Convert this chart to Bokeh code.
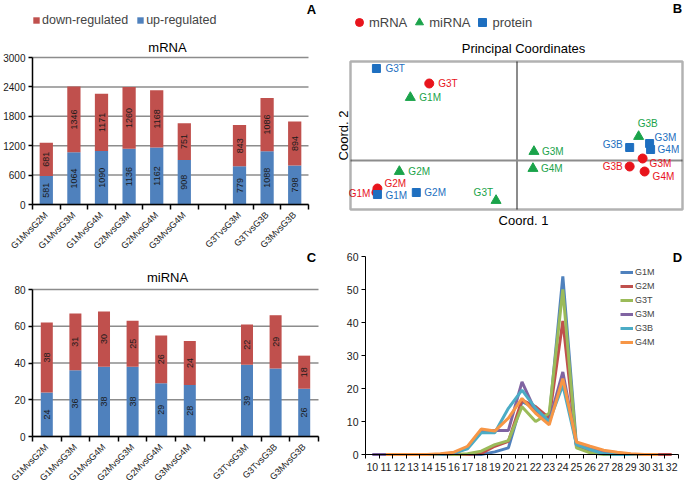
import math
from bokeh.plotting import figure
from bokeh.models import (ColumnDataSource, FixedTicker, Label, Legend, LegendItem,
                          Range1d, BoxAnnotation)
from bokeh.layouts import column, row
from bokeh.embed import file_html
from bokeh.resources import INLINE
from bokeh.core.properties import value

FONT = "Liberation Sans"
BAR_RED = "#C0504D"
BAR_BLUE = "#4F81BD"

# ---------------- data ----------------
comparisons_block1 = ["G1MvsG2M", "G1MvsG3M", "G1MvsG4M", "G2MvsG3M", "G2MvsG4M", "G3MvsG4M"]
comparisons_block2 = ["G3TvsG3M", "G3TvsG3B", "G3MvsG3B"]

mrna_up = [581, 1064, 1090, 1136, 1162, 908, 779, 1088, 798]
mrna_down = [681, 1346, 1171, 1260, 1168, 751, 843, 1086, 894]
mrna_ticks = [0, 600, 1200, 1800, 2400, 3000]

mirna_up = [24, 36, 38, 38, 29, 28, 39, 37, 26]
mirna_down = [38, 31, 30, 25, 26, 24, 22, 29, 18]
mirna_up_labelled = [True, True, True, True, True, True, True, False, True]
mirna_ticks = [0, 20, 40, 60, 80]

pcoa_samples = ["G1M", "G2M", "G3T", "G3M", "G3B", "G4M"]
mrna_c1 = [-0.705, -0.70, -0.44, 0.63, 0.565, 0.64]
mrna_c2 = [-0.16, -0.14, 0.385, 0.01, -0.03, -0.055]
mirna_c1 = [-0.535, -0.59, -0.105, 0.085, 0.61, 0.08]
mirna_c2 = [0.315, -0.055, -0.20, 0.045, 0.12, -0.04]
protein_c1 = [-0.70, -0.505, -0.705, 0.665, 0.565, 0.67]
protein_c2 = [-0.17, -0.16, 0.46, 0.085, 0.065, 0.055]
pcoa_c1_extent = (-0.835, 0.83)
pcoa_c2_extent = (-0.245, 0.495)

NA = float("nan")
length_nt = list(range(10, 33))
len_ticks = [0, 10, 20, 30, 40, 50, 60]
len_G1M = [NA, 0, 0, 0, 0, 0, 0, 0, 0, 0.8, 2, 16, 14, 11, 54, 3, 1.2, 0.3, 0, 0, 0, 0, NA]
len_G2M = [NA, 0, 0, 0, 0, 0, 0, 0, 0.3, 2.5, 4, 16.5, 14.5, 11, 40.5, 2.5, 1, 0.5, 0.2, 0, 0, 0, 0]
len_G3T = [NA, 0, 0, 0, 0, 0, 0, 0.2, 1, 3, 4.2, 14.5, 10, 12.5, 50, 2, 0.5, 0, 0, 0, 0, 0, NA]
len_G3M = [0, 0, 0, 0, 0, 0, 0.3, 2, 7, 7.3, 7.3, 22, 13, 10, 25, 3, 2, 1, 0.5, 0, 0, 0, NA]
len_G3B = [NA, 0, 0, 0, 0, 0, 0.5, 1.7, 6.6, 6.6, 14, 19.5, 14, 10, 21, 3, 1.5, 0.2, 0, 0, 0, 0, NA]
len_G4M = [NA, 0, 0, 0, 0, 0.2, 0.7, 2.5, 7.7, 7.1, 11, 17, 12.5, 9, 23, 3.8, 2.5, 1.3, 0.7, 0.2, 0, 0, NA]

# ---------------- helpers ----------------
comparisons = comparisons_block1 + comparisons_block2
xpos = list(range(1, len(comparisons_block1) + 1)) + \
    list(range(len(comparisons_block1) + 2, len(comparisons_block1) + 2 + len(comparisons_block2)))
n_slots = xpos[-1]


def x_range_for(d_lo, d_hi, px_lo, px_hi, size):
    scale = (px_hi - px_lo) / (d_hi - d_lo)
    start = d_lo - px_lo / scale
    return Range1d(start, start + size / scale)


def y_range_for(d_lo, d_hi, py_lo, py_hi, size):
    # py_* are pixel rows measured from the top of the figure
    b_lo, b_hi = size - py_lo, size - py_hi
    scale = (b_hi - b_lo) / (d_hi - d_lo)
    start = d_lo - b_lo / scale
    return Range1d(start, start + size / scale)


def make_fig(w, h, xr, yr):
    p = figure(width=w, height=h, x_range=xr, y_range=yr, output_backend="svg",
               toolbar_location=None, min_border_left=0, min_border_right=0,
               min_border_top=0, min_border_bottom=0, frame_align=False)
    p.background_fill_color = "white"
    p.border_fill_color = "white"
    p.outline_line_color = None
    p.xgrid.grid_line_color = None
    p.ygrid.grid_line_color = None
    return p


def add_label(p, fx, fy, text, size, bold=False, angle=0.0, align="center", color="#000000"):
    p.add_layout(Label(x=fx, y=p.height - fy, x_units="screen", y_units="screen", text=text,
                       text_font=FONT, text_font_size=size, text_align=align,
                       text_baseline="middle", angle=angle, text_color=color,
                       text_font_style="bold" if bold else "normal"))


def style_axis(ax, size, width=1.5):
    ax.axis_line_color = "black"
    ax.axis_line_width = width
    ax.major_label_text_font = FONT
    ax.major_label_text_font_size = size
    ax.major_label_text_color = "#1a1a1a"
    ax.minor_tick_line_color = None
    ax.major_tick_line_color = "black"
    ax.major_tick_line_width = width


def bar_panel(w, h, box, up, down, ticks, bar_w, up_show, title, title_pos,
              letter, letter_pos, legend_loc=None):
    left, right, top, bottom = box
    p = make_fig(w, h, x_range_for(0.5, n_slots + 0.5, left, right, w),
                 y_range_for(0, ticks[-1], bottom, top, h))
    src = ColumnDataSource(dict(
        x=xpos, up=up, top=[u + d for u, d in zip(up, down)],
        up_mid=[u / 2 for u in up], down_mid=[u + d / 2 for u, d in zip(up, down)],
        up_txt=[str(u) if s else "" for u, s in zip(up, up_show)],
        down_txt=[str(d) for d in down]))
    # horizontal gridlines limited to the plotting box
    p.segment(x0=[0.5] * len(ticks), x1=[n_slots + 0.5] * len(ticks), y0=ticks, y1=ticks,
              line_color="#8C8C8C", line_width=1.5)
    r_up = p.vbar(x="x", bottom=0, top="up", width=bar_w, fill_color=BAR_BLUE,
                  line_color=None, source=src)
    r_down = p.vbar(x="x", bottom="up", top="top", width=bar_w, fill_color=BAR_RED,
                    line_color=None, source=src)
    for ycol, tcol in (("up_mid", "up_txt"), ("down_mid", "down_txt")):
        p.text(x="x", y=ycol, text=tcol, angle=math.pi / 2, text_align="center",
               text_baseline="middle", text_font=value(FONT), text_font_size="9px",
               text_color="#1a1a1a", source=src)
    ya = p.yaxis[0]
    style_axis(ya, "10px")
    ya.fixed_location = 0.5
    ya.bounds = (0, ticks[-1])
    ya.ticker = FixedTicker(ticks=ticks)
    ya.major_tick_out = 4
    ya.major_tick_in = 0
    ya.major_label_standoff = 3
    xa = p.xaxis[0]
    style_axis(xa, "9px")
    xa.fixed_location = 0
    xa.bounds = (0.5, n_slots + 0.5)
    xa.ticker = FixedTicker(ticks=xpos, minor_ticks=[0.5 + i for i in range(n_slots + 1)])
    xa.major_label_overrides = {x: c for x, c in zip(xpos, comparisons)}
    xa.major_tick_line_color = None
    xa.major_tick_out = 0
    xa.major_tick_in = 0
    xa.minor_tick_line_color = "black"
    xa.minor_tick_line_width = 1.5
    xa.minor_tick_out = 5
    xa.minor_tick_in = 0
    xa.major_label_standoff = 4
    xa.major_label_orientation = math.pi / 4
    add_label(p, title_pos[0], title_pos[1], title, "13px")
    add_label(p, letter_pos[0], letter_pos[1], letter, "13px", bold=True)
    if legend_loc is not None:
        leg = Legend(items=[LegendItem(label="down-regulated", renderers=[r_down]),
                            LegendItem(label="up-regulated", renderers=[r_up])],
                     orientation="horizontal", location=legend_loc,
                     glyph_width=8, glyph_height=8, label_standoff=2, spacing=8,
                     padding=0, margin=0, label_height=12,
                     label_text_font=FONT, label_text_font_size="12.5px",
                     border_line_color=None, background_fill_alpha=0)
        p.add_layout(leg, "center")
    return p


# ---------------- panel A ----------------
pA = bar_panel(336, 250, (32, 308, 57, 204), mrna_up, mrna_down, mrna_ticks, 0.48,
               [True] * len(mrna_up), "mRNA", (167, 47), "A", (311, 9),
               legend_loc=(32, 250 - 27))

# ---------------- panel C ----------------
pC = bar_panel(336, 234, (32, 318, 39, 186), mirna_up, mirna_down, mirna_ticks, 0.42,
               mirna_up_labelled, "miRNA", (167, 27), "C", (311, 7))

# ---------------- panel B ----------------
PC_RED, PC_GREEN, PC_BLUE = "#E8141C", "#1AA34A", "#1E6FC0"
WB, HB = 348, 250
pB = make_fig(WB, HB, x_range_for(pcoa_c1_extent[0], pcoa_c1_extent[1], 14, 346, WB),
              y_range_for(pcoa_c2_extent[0], pcoa_c2_extent[1], 209, 61, HB))
pB.xaxis.visible = False
pB.yaxis.visible = False
(x_lo, x_hi), (y_lo, y_hi) = pcoa_c1_extent, pcoa_c2_extent
pB.segment(x0=[0, x_lo], y0=[y_lo, 0], x1=[0, x_hi], y1=[y_hi, 0],
           line_color="#8C8C8C", line_width=2)
pB.add_layout(BoxAnnotation(left=x_lo, right=x_hi, bottom=y_lo, top=y_hi,
                            fill_alpha=0, fill_color=None, line_color="black",
                            line_width=2.5))

# label placement styling (pixel offsets / alignment), per sample order
lab_style = {
    "mRNA": ([-6, 7, 9, 7, -7, 8], [1, -5, 0, 5, 0, 5],
             ["right", "left", "left", "left", "right", "left"]),
    "miRNA": ([9, 9, -3, 8, -1, 8], [0, 0, -8, 0, -13, 0],
              ["left", "left", "right", "left", "left", "left"]),
    "protein": ([8, 8, 9, 5, -7, 7], [1, 0, 0, -6, -3, 0],
                ["left", "left", "left", "left", "right", "left"]),
}
pc_sets = [("mRNA", mrna_c1, mrna_c2, "circle", 9, PC_RED),
           ("miRNA", mirna_c1, mirna_c2, "triangle", 10, PC_GREEN),
           ("protein", protein_c1, protein_c2, "square", 8, PC_BLUE)]
leg_items = []
for name, c1, c2, marker, size, col in pc_sets:
    dx, dy, al = lab_style[name]
    s = ColumnDataSource(dict(x=c1, y=c2, t=pcoa_samples, dx=dx, dy=dy, al=al))
    r = pB.scatter(x="x", y="y", marker=marker, size=size, fill_color=col, line_color=col,
                   source=s)
    pB.text(x="x", y="y", text="t", x_offset="dx", y_offset="dy", text_align="al",
            text_baseline="middle", text_font=value(FONT), text_font_size="10px",
            text_color=col, source=s)
    leg_items.append(LegendItem(label=name, renderers=[r]))
legB = Legend(items=leg_items, orientation="horizontal", location=(13, HB - 32),
              glyph_width=20, glyph_height=20, label_standoff=0, spacing=2,
              padding=0, margin=0, label_height=14,
              label_text_font=FONT, label_text_font_size="13px",
              border_line_color=None, background_fill_alpha=0)
pB.add_layout(legB, "center")
add_label(pB, 187, 48, "Principal Coordinates", "13px")
add_label(pB, 187, 220, "Coord. 1", "13px")
add_label(pB, 7, 135, "Coord. 2", "13px", angle=math.pi / 2)
add_label(pB, 341, 8, "B", "13px", bold=True)

# ---------------- panel D ----------------
WD, HD = 348, 234
pD = make_fig(WD, HD, x_range_for(length_nt[0] - 0.5, length_nt[-1] + 0.5, 29, 342, WD),
              y_range_for(len_ticks[0], len_ticks[-1], 204, 6, HD))
line_sets = [("G1M", len_G1M, "#4F81BD"), ("G2M", len_G2M, "#C0504D"),
             ("G3T", len_G3T, "#9BBB59"), ("G3M", len_G3M, "#8064A2"),
             ("G3B", len_G3B, "#4BACC6"), ("G4M", len_G4M, "#F79646")]
d_items = []
for name, vals, col in line_sets:
    r = pD.line(length_nt, vals, line_width=3, line_color=col)
    d_items.append(LegendItem(label=name, renderers=[r]))
ya = pD.yaxis[0]
style_axis(ya, "10.5px", width=1)
ya.fixed_location = length_nt[0] - 0.5
ya.bounds = (len_ticks[0], len_ticks[-1])
ya.ticker = FixedTicker(ticks=len_ticks)
ya.major_tick_out = 4
ya.major_tick_in = 0
ya.major_label_standoff = 3
xa = pD.xaxis[0]
style_axis(xa, "10.5px", width=1)
xa.fixed_location = 0
xa.bounds = (length_nt[0] - 0.5, length_nt[-1] + 0.5)
xa.ticker = FixedTicker(ticks=length_nt,
                        minor_ticks=[length_nt[0] - 0.5 + i for i in range(len(length_nt) + 1)])
xa.major_tick_line_color = None
xa.major_tick_out = 0
xa.major_tick_in = 0
xa.minor_tick_line_color = "black"
xa.minor_tick_out = 4
xa.minor_tick_in = 0
xa.major_label_standoff = 4
legD = Legend(items=d_items, orientation="vertical", location=(284, HD - 99),
              glyph_width=13, glyph_height=14, label_standoff=2, spacing=0,
              padding=0, margin=0, label_height=14,
              label_text_font=FONT, label_text_font_size="9px",
              border_line_color=None, background_fill_alpha=0)
pD.add_layout(legD, "center")
add_label(pD, 341, 7, "D", "13px", bold=True)

layout = column(row(pA, pB), row(pC, pD))
open("out.html", "w").write(file_html(layout, INLINE))
